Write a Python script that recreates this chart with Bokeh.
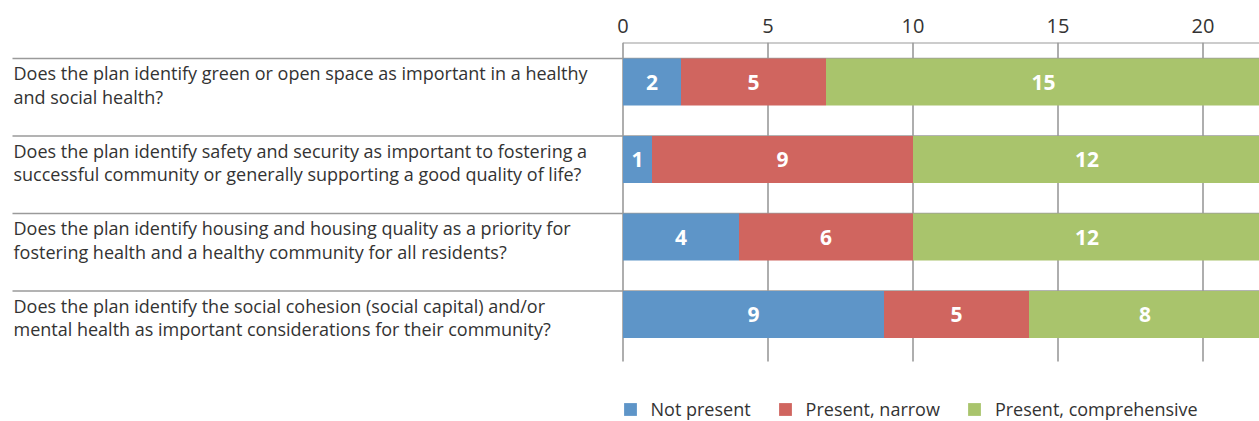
from bokeh.plotting import figure
from bokeh.models import ColumnDataSource, Range1d, LinearAxis, FixedTicker, Legend, LegendItem
from bokeh.core.properties import value
from bokeh.embed import file_html
from bokeh.resources import INLINE

questions = [
    "Does the plan identify green or open space as important in a healthy\nand social health?",
    "Does the plan identify safety and security as important to fostering a\nsuccessful community or generally supporting a good quality of life?",
    "Does the plan identify housing and housing quality as a priority for\nfostering health and a healthy community for all residents?",
    "Does the plan identify the social cohesion (social capital) and/or\nmental health as important considerations for their community?",
]
not_present = [2, 1, 4, 9]
present_narrow = [5, 9, 6, 5]
present_comprehensive = [15, 12, 12, 8]
series_names = ["Not present", "Present, narrow", "Present, comprehensive"]
colors = ["#5e95c8", "#d0655f", "#a9c46c"]
ticks = [0, 5, 10, 15, 20]

FONT = "Open Sans"
W, H = 1259, 421
TOP = 42
px_per_unit = 29.0
x0_px = 622.5
row_px = 77.5
sep0_px = 58.0

xr = Range1d(-x0_px / px_per_unit, (W - x0_px) / px_per_unit)
yr = Range1d((H - sep0_px) / row_px, -(sep0_px - TOP) / row_px)

p = figure(width=W, height=H, x_range=xr, y_range=yr, output_backend="svg",
           toolbar_location=None, x_axis_location=None, y_axis_location=None,
           min_border_left=0, min_border_right=0, min_border_top=TOP,
           min_border_bottom=0, outline_line_color=None)
p.xgrid.visible = False
p.ygrid.visible = False

n = len(questions)
rows = list(range(n))
bar_h = 47.0 / row_px
ymid = [r + bar_h / 2 for r in rows]

# gridlines
grid_bottom = (361 - sep0_px) / row_px
p.segment(x0=ticks, y0=[yr.end] * len(ticks), x1=ticks, y1=[grid_bottom] * len(ticks),
          line_color="#9a9a9a", line_width=1.6)
# top line
p.segment(x0=[0], y0=[yr.end], x1=[xr.end + 1], y1=[yr.end], line_color="#9a9a9a", line_width=2)
# separators
p.segment(x0=[(12 - x0_px) / px_per_unit] * n, y0=rows, x1=[xr.end + 1] * n, y1=rows,
          line_color="#9a9a9a", line_width=1.6)

series = [not_present, present_narrow, present_comprehensive]
left = [0] * n
renderers = []
label_x, label_y, label_t = [], [], []
for vals, col, name in zip(series, colors, series_names):
    right = [l + v for l, v in zip(left, vals)]
    src = ColumnDataSource(dict(y=ymid, left=left, right=right))
    r = p.hbar(y="y", left="left", right="right", height=bar_h, source=src,
               fill_color=col, line_color=None)
    renderers.append((name, r))
    for i in range(n):
        label_x.append((left[i] + right[i]) / 2)
        label_y.append(ymid[i])
        label_t.append(str(vals[i]))
    left = right

p.text(x=label_x, y=label_y, text=label_t, text_color="white", text_font=value(FONT),
       text_font_style="bold", text_font_size="21px", text_align="center",
       text_baseline="middle")

# question labels
p.text(x=[(13 - x0_px) / px_per_unit] * n, y=[r + 26.5 / row_px for r in rows], text=questions,
       text_color="#333333", text_font=value(FONT), text_font_size="18px",
       text_align="left", text_baseline="middle", text_line_height=0.96)

ax = LinearAxis(ticker=FixedTicker(ticks=ticks))
ax.axis_line_color = None
ax.major_tick_line_color = None
ax.minor_tick_line_color = None
ax.major_tick_out = 0
ax.major_tick_in = 0
ax.major_label_standoff = 10
ax.major_label_text_font = FONT
ax.major_label_text_font_size = "20px"
ax.major_label_text_color = "#333333"
p.add_layout(ax, "above")

legend = Legend(items=[LegendItem(label=nm, renderers=[r]) for nm, r in renderers],
                orientation="horizontal", location=(x0_px - 1, 0),
                glyph_width=16, glyph_height=16, label_standoff=13, spacing=26,
                padding=0, margin=0, border_line_color=None, background_fill_alpha=0,
                label_text_font=FONT, label_text_font_size="18px",
                label_text_color="#333333")
p.add_layout(legend)

open("out.html", "w").write(file_html(p, INLINE))
